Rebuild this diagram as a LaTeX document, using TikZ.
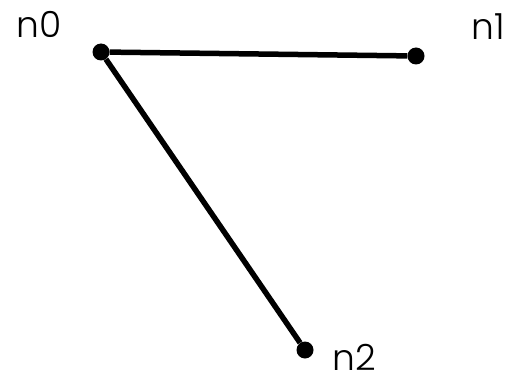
\documentclass[tikz,border=0pt]{standalone}
\usepackage{fontspec}
\setmainfont{Poppins}[UprightFont=* Light]
\usepackage{tikz}

\begin{document}
\begin{tikzpicture}[x=1pt,y=1pt]
\useasboundingbox (0,0) rectangle (508,378);
\tikzset{vert/.style={circle,fill=black,inner sep=0pt,minimum size=17pt},
  vlabel/.style={font=\fontsize{36}{40}\selectfont,inner sep=0pt},
  edge/.style={draw=black,line width=5.5pt}}
% vertices:
\node[vert] (n0) at (101,326) {};
\node[vert] (n1) at (416,322) {};
\node[vert] (n2) at (305,28) {};
% labels:
\node[vlabel] (l0) at (39,354) {n0};
\node[vlabel] (l1) at (488,351) {n1};
\node[vlabel] (l2) at (354,21) {n2};
% edges:
\path[edge] (n0) -- (n1);
\path[edge] (n0) -- (n2);
\end{tikzpicture}
\end{document}
